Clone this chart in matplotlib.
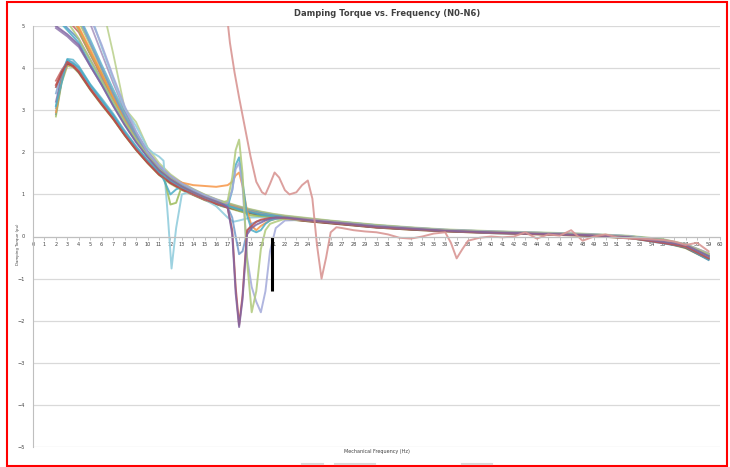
import matplotlib.pyplot as plt
from matplotlib.lines import Line2D
from matplotlib.patches import Rectangle

# shared frequency grid (Hz) for the plain curves
freq_main = [2, 2.5, 3, 3.5, 4, 5, 6, 7, 8, 9, 10, 11, 12, 13, 14, 15, 16, 17, 18, 19, 20,
             21, 22, 24, 26, 28, 30, 33, 36, 40, 44, 48, 52, 55, 57, 59]

# lower group (peak near 3 Hz)
a1 = [2.90, 3.70, 4.12, 4.10, 3.95, 3.55, 3.20, 2.85, 2.45, 2.10, 1.78, 1.50, 1.30, 1.15, 1.02, 0.90, 0.80, 0.72,
      0.65, 0.58, 0.52, 0.48, 0.44, 0.38, 0.33, 0.28, 0.23, 0.18, 0.14, 0.10, 0.07, 0.04, -0.02, -0.10, -0.22, -0.48]
a2 = [3.70, 3.95, 4.15, 4.08, 3.92, 3.50, 3.15, 2.80, 2.42, 2.08, 1.76, 1.48, 1.28, 1.12, 1.00, 0.88, 0.78, 0.70,
      0.62, 0.55, 0.50, 0.46, 0.42, 0.37, 0.32, 0.27, 0.22, 0.17, 0.13, 0.09, 0.06, 0.03, -0.03, -0.12, -0.25, -0.52]
a3 = [2.85, 3.65, 4.05, 4.02, 3.88, 3.48, 3.12, 2.78, 2.40, 2.05, 1.74, 1.46, 1.25, 1.10, 0.98, 0.86, 0.76, 0.68,
      0.60, 0.54, 0.49, 0.45, 0.41, 0.36, 0.31, 0.26, 0.21, 0.16, 0.12, 0.08, 0.05, 0.02, -0.04, -0.14, -0.28, -0.55]
a4 = [3.05, 3.85, 4.22, 4.20, 4.05, 3.62, 3.28, 2.92, 2.52, 2.15, 1.82, 1.54, 1.33, 1.18, 1.05, 0.93, 0.83, 0.75,
      0.68, 0.61, 0.55, 0.50, 0.46, 0.40, 0.35, 0.30, 0.25, 0.19, 0.15, 0.11, 0.08, 0.05, 0.00, -0.08, -0.20, -0.42]
a5 = [3.20, 3.80, 4.10, 4.06, 3.90, 3.52, 3.18, 2.83, 2.44, 2.08, 1.77, 1.49, 1.29, 1.14, 1.01, 0.89, 0.79, 0.71,
      0.64, 0.57, 0.51, 0.47, 0.43, 0.37, 0.32, 0.27, 0.22, 0.17, 0.13, 0.09, 0.06, 0.03, -0.02, -0.11, -0.24, -0.50]
a6 = [2.95, 3.72, 4.08, 4.06, 3.93, 3.53, 3.17, 2.82, 2.43, 2.09, 1.79, 1.52, 1.32, 1.17, 1.05, 0.95, 0.86, 0.76,
      0.68, 0.60, 0.53, 0.48, 0.44, 0.38, 0.33, 0.28, 0.23, 0.18, 0.14, 0.10, 0.07, 0.04, -0.01, -0.09, -0.21, -0.46]
a7 = [3.40, 3.90, 4.18, 4.14, 3.98, 3.58, 3.22, 2.88, 2.48, 2.12, 1.80, 1.52, 1.31, 1.16, 1.03, 0.91, 0.81, 0.73,
      0.66, 0.59, 0.53, 0.49, 0.45, 0.39, 0.34, 0.29, 0.24, 0.18, 0.14, 0.10, 0.07, 0.04, -0.03, -0.13, -0.26, -0.56]
a8 = [3.55, 3.90, 4.10, 4.05, 3.90, 3.50, 3.14, 2.80, 2.41, 2.06, 1.75, 1.47, 1.27, 1.12, 0.99, 0.87, 0.77, 0.69,
      0.62, 0.56, 0.50, 0.46, 0.42, 0.36, 0.31, 0.26, 0.21, 0.16, 0.12, 0.08, 0.05, 0.02, -0.04, -0.13, -0.27, -0.54]

# upper group (starts off the top)
b1 = [4.95, 4.85, 4.75, 4.62, 4.50, 4.05, 3.60, 3.12, 2.66, 2.25, 1.90, 1.60, 1.38, 1.20, 1.06, 0.94, 0.84, 0.75,
      0.68, 0.61, 0.55, 0.50, 0.46, 0.40, 0.35, 0.30, 0.25, 0.19, 0.15, 0.11, 0.08, 0.05, 0.00, -0.09, -0.22, -0.47]
b2 = [5.30, 5.10, 4.95, 4.82, 4.68, 4.20, 3.72, 3.22, 2.74, 2.30, 1.93, 1.62, 1.40, 1.22, 1.08, 0.95, 0.85, 0.76,
      0.69, 0.62, 0.56, 0.51, 0.47, 0.41, 0.36, 0.31, 0.26, 0.20, 0.15, 0.11, 0.08, 0.05, 0.00, -0.08, -0.21, -0.45]
b3 = [5.60, 5.35, 5.15, 5.00, 4.85, 4.32, 3.80, 3.28, 2.78, 2.33, 1.95, 1.63, 1.40, 1.22, 1.07, 0.95, 0.84, 0.75,
      0.67, 0.60, 0.54, 0.50, 0.46, 0.40, 0.35, 0.30, 0.25, 0.19, 0.14, 0.10, 0.07, 0.04, -0.01, -0.10, -0.23, -0.49]
b4 = [5.90, 5.60, 5.35, 5.15, 4.98, 4.45, 3.90, 3.36, 2.84, 2.38, 1.98, 1.65, 1.41, 1.23, 1.09, 0.97, 0.87, 0.78,
      0.70, 0.62, 0.56, 0.51, 0.47, 0.41, 0.36, 0.31, 0.26, 0.20, 0.15, 0.11, 0.08, 0.05, 0.00, -0.08, -0.20, -0.44]
b5 = [6.20, 5.85, 5.55, 5.32, 5.10, 4.55, 3.98, 3.42, 2.88, 2.40, 2.00, 1.66, 1.42, 1.24, 1.10, 0.97, 0.86, 0.77,
      0.69, 0.62, 0.56, 0.51, 0.47, 0.41, 0.36, 0.31, 0.26, 0.20, 0.15, 0.11, 0.08, 0.05, -0.01, -0.10, -0.24, -0.52]
b6 = [6.50, 6.10, 5.75, 5.50, 5.25, 4.68, 4.08, 3.50, 2.95, 2.45, 2.02, 1.68, 1.43, 1.25, 1.11, 0.98, 0.87, 0.78,
      0.70, 0.63, 0.57, 0.52, 0.48, 0.42, 0.37, 0.32, 0.27, 0.21, 0.16, 0.12, 0.09, 0.06, 0.01, -0.07, -0.19, -0.42]
b7 = [7.00, 6.60, 6.25, 5.95, 5.65, 5.05, 4.35, 3.65, 3.00, 2.48, 2.04, 1.70, 1.45, 1.27, 1.12, 0.99, 0.88, 0.79,
      0.71, 0.64, 0.58, 0.53, 0.49, 0.43, 0.37, 0.32, 0.27, 0.21, 0.16, 0.12, 0.09, 0.06, 0.01, -0.08, -0.21, -0.46]
b8 = [8.50, 8.00, 7.50, 7.10, 6.70, 6.00, 5.55, 4.35, 3.05, 2.72, 2.12, 1.75, 1.48, 1.28, 1.13, 1.00, 0.89, 0.80,
      0.72, 0.65, 0.59, 0.54, 0.50, 0.44, 0.38, 0.33, 0.28, 0.22, 0.17, 0.13, 0.10, 0.07, 0.02, -0.06, -0.18, -0.40]

# curves with the dip near 12 Hz
freq_s1 = [2, 3, 4, 5, 6, 7, 8, 9, 10, 10.5, 11, 11.4, 11.8, 12.1, 12.5, 13, 13.5, 14,
           15, 16, 17, 17.5, 18, 19, 20, 21, 22, 24, 26, 30, 36, 40, 48, 52, 57, 59]
s_cyan = [7.5, 6.8, 6.1, 5.3, 4.5, 3.75, 3.05, 2.62, 2.10, 1.98, 1.90, 1.80, 0.40, -0.76, 0.20, 1.00, 1.05, 1.00,
          0.88, 0.72, 0.45, 0.35, 0.38, 0.45, 0.46, 0.45, 0.44, 0.39, 0.34, 0.24, 0.15, 0.11, 0.05, 0.01, -0.20, -0.43]

freq_s2 = [2, 3, 4, 5, 6, 7, 8, 9, 10, 11, 11.5, 12, 12.5, 13, 14, 15, 16, 17, 18, 19, 20,
           22, 24, 26, 30, 36, 40, 48, 52, 57, 59]
s_green12 = [6.0, 5.4, 4.9, 4.35, 3.85, 3.3, 2.8, 2.35, 1.95, 1.62, 1.35, 0.76, 0.80, 1.20, 1.05, 0.92, 0.82, 0.72,
             0.62, 0.50, 0.48, 0.45, 0.39, 0.34, 0.23, 0.14, 0.10, 0.04, -0.02, -0.22, -0.50]
s_blue12 = [5.2, 4.9, 4.6, 4.1, 3.65, 3.15, 2.7, 2.28, 1.9, 1.58, 1.30, 1.00, 1.12, 1.18, 1.04, 0.92, 0.82, 0.73,
            0.64, 0.57, 0.51, 0.45, 0.39, 0.34, 0.24, 0.15, 0.11, 0.05, -0.01, -0.21, -0.47]

# curves with peaks / dips near 18-20 Hz
freq_s3 = [2, 3, 4, 5, 6, 7, 8, 9, 10, 11, 12, 13, 14, 15, 16,
           16.5, 17, 17.4, 17.7, 18.0, 18.3, 18.7, 19.1, 19.5, 19.9, 20.3, 20.7, 21.2,
           22, 24, 26, 30, 36, 40, 48, 52, 57, 59]
s_green18 = [5.5, 5.1, 4.7, 4.2, 3.7, 3.2, 2.72, 2.3, 1.92, 1.6, 1.38, 1.2, 1.05, 0.93, 0.83,
             0.80, 0.85, 1.4, 2.05, 2.3, 1.5, -0.6, -1.8, -1.3, -0.3, 0.15, 0.3, 0.35,
             0.42, 0.38, 0.34, 0.24, 0.15, 0.11, 0.05, 0.0, -0.19, -0.42]
s_red18 = [3.6, 4.15, 3.92, 3.5, 3.14, 2.8, 2.42, 2.07, 1.76, 1.48, 1.28, 1.12, 1.0, 0.88, 0.78,
           0.74, 0.68, 0.15, -1.2, -2.1, -1.4, 0.15, 0.25, 0.35, 0.4, 0.42, 0.44, 0.45,
           0.44, 0.38, 0.33, 0.22, 0.13, 0.09, 0.03, -0.03, -0.24, -0.52]
s_purple18 = [5.0, 4.8, 4.55, 4.05, 3.6, 3.1, 2.65, 2.24, 1.89, 1.58, 1.36, 1.19, 1.05, 0.93, 0.83,
              0.78, 0.7, 0.05, -1.35, -2.15, -1.5, 0.05, 0.2, 0.28, 0.33, 0.38, 0.42, 0.45,
              0.45, 0.39, 0.34, 0.24, 0.14, 0.10, 0.04, -0.01, -0.2, -0.46]
s_lav = [6.8, 6.3, 5.8, 5.2, 4.55, 3.8, 3.1, 2.5, 2.0, 1.68, 1.44, 1.26, 1.11, 0.98, 0.88,
         0.82, 0.8, 1.1, 1.6, 1.75, 1.2, -0.5, -1.2, -1.55, -1.8, -1.3, -0.35, 0.2,
         0.38, 0.4, 0.35, 0.25, 0.16, 0.12, 0.06, 0.01, -0.18, -0.40]
s_steel = [5.8, 5.5, 5.2, 4.6, 4.0, 3.4, 2.85, 2.38, 1.97, 1.64, 1.40, 1.23, 1.08, 0.95, 0.85,
           0.8, 0.7, 0.45, 0.0, -0.42, -0.35, 0.1, 0.3, 0.35, 0.38, 0.4, 0.42, 0.43,
           0.44, 0.39, 0.34, 0.23, 0.14, 0.08, 0.04, -0.02, -0.23, -0.5]
s_teal = [3.1, 4.2, 4.02, 3.6, 3.24, 2.88, 2.48, 2.12, 1.8, 1.52, 1.31, 1.16, 1.03, 0.91, 0.8,
          0.72, 0.7, 1.1, 1.7, 1.88, 1.3, 0.5, 0.15, 0.1, 0.15, 0.3, 0.38, 0.42,
          0.44, 0.38, 0.33, 0.22, 0.13, 0.1, 0.03, -0.03, -0.25, -0.55]
s_orange = [5.7, 5.3, 4.95, 4.4, 3.85, 3.3, 2.8, 2.36, 1.96, 1.63, 1.40, 1.28, 1.22, 1.2, 1.18,
            1.2, 1.22, 1.3, 1.45, 1.52, 1.2, 0.6, 0.25, 0.15, 0.25, 0.32, 0.38, 0.42,
            0.45, 0.4, 0.35, 0.24, 0.15, 0.11, 0.05, 0.0, -0.19, -0.41]

# the oscillating pink curve
freq_pink = [16.8, 17.2, 17.6, 18.0, 18.5, 19.0, 19.5, 20.0, 20.3, 20.7,
             21.1, 21.5, 22.0, 22.4, 23.0, 23.5, 24.0, 24.4, 24.8, 25.2,
             25.6, 26.0, 26.5, 27, 28, 29, 30, 31, 32, 33,
             34, 35, 36, 36.5, 37, 37.5, 38, 39, 40, 41,
             42, 43, 44, 45, 46, 47, 48, 49, 50, 51,
             52, 53, 54, 55, 56, 57, 58, 59]
s_pink = [5.6, 4.6, 3.9, 3.3, 2.6, 1.9, 1.3, 1.05, 1.0, 1.25,
          1.52, 1.4, 1.1, 1.0, 1.05, 1.22, 1.33, 0.9, -0.2, -1.0,
          -0.5, 0.1, 0.22, 0.2, 0.15, 0.12, 0.1, 0.05, -0.03, -0.05,
          0.0, 0.07, 0.1, -0.15, -0.52, -0.3, -0.1, -0.03, 0.0, -0.02,
          0.0, 0.1, -0.05, 0.05, 0.02, 0.15, -0.1, 0.0, 0.05, -0.02,
          -0.05, -0.05, -0.07, -0.08, -0.12, -0.2, -0.15, -0.35]

# black marker bar
bar_freq = 20.9
bar_range = [0, -1.3]

x_ticks = list(range(0, 61))
y_ticks = list(range(-5, 6))

fig = plt.figure(figsize=(7.3, 4.67), dpi=100)
ax = fig.add_axes([33 / 730, 1 - 447 / 467, (720 - 33) / 730, (447 - 26) / 467])

main = [(b1, '#8064A2'), (b2, '#4F81BD'), (b3, '#C0504D'), (b4, '#F79646'), (b5, '#9BBB59'),
        (b6, '#4BACC6'), (b7, '#9983B5'), (b8, '#AFC97A'),
        (a1, '#4F81BD'), (a2, '#C0504D'), (a3, '#9BBB59'), (a4, '#4BACC6'), (a5, '#8064A2'),
        (a6, '#F79646'), (a7, '#729ACA'), (a8, '#953735')]
for vals, c in main:
    ax.plot(freq_main, vals, color=c, lw=1.3, alpha=0.75)

ax.plot(freq_s1, s_cyan, color='#93CDDD', lw=1.4, alpha=0.9)
ax.plot(freq_s2, s_green12, color='#9BBB59', lw=1.4, alpha=0.85)
ax.plot(freq_s2, s_blue12, color='#4BACC6', lw=1.4, alpha=0.85)

special = [(s_orange, '#F79646'), (s_teal, '#4BACC6'), (s_steel, '#729ACA'), (s_lav, '#A3A9DA'),
           (s_green18, '#AFC97A'), (s_red18, '#C0504D'), (s_purple18, '#8064A2')]
for vals, c in special:
    ax.plot(freq_s3, vals, color=c, lw=1.4, alpha=0.85)

ax.plot(freq_pink, s_pink, color='#D99694', lw=1.4, alpha=0.9)

ax.plot([bar_freq, bar_freq], bar_range, color='black', lw=2.2, solid_capstyle='butt')

ax.set_xlim(0, 60)
ax.set_ylim(-5, 5)
ax.set_xticks(x_ticks)
ax.set_yticks(y_ticks)
ax.grid(axis='y', color='#D9D9D9', lw=0.9)
ax.set_axisbelow(True)
ax.spines['top'].set_visible(False)
ax.spines['right'].set_visible(False)
ax.spines['bottom'].set_position(('data', 0))
ax.spines['bottom'].set_color('#BFBFBF')
ax.spines['left'].set_color('#BFBFBF')
ax.tick_params(axis='x', labelsize=3.6, length=2, width=0.5, color='#A6A6A6', pad=2, labelcolor='#404040')
ax.tick_params(axis='y', labelsize=3.6, length=0, pad=6, labelcolor='#404040')

fig.text(387 / 730, 1 - 13 / 467, 'Damping Torque vs. Frequency (N0-N6)', fontsize=6,
         fontweight='bold', color='#404040', ha='center', va='center')
fig.text(377 / 730, 1 - 452 / 467, 'Mechanical Frequency (Hz)', fontsize=3.5,
         color='#404040', ha='center', va='center')
fig.text(18 / 730, 1 - 244 / 467, 'Damping Torque (pu)', fontsize=2.8, rotation=90,
         color='#404040', ha='center', va='center')

# cut-off legend remnants along the bottom edge
for x0, x1 in [(302, 323), (335, 375), (462, 492)]:
    fig.add_artist(Line2D([x0 / 730, x1 / 730], [1 - 464 / 467] * 2, color='#D9D9D9', lw=1.5))

fig.add_artist(Rectangle((7 / 730, 1 / 467), 720 / 730, 464 / 467, fill=False,
                         edgecolor='#FF0000', lw=1.5))

fig.savefig('out.png', dpi=100)
